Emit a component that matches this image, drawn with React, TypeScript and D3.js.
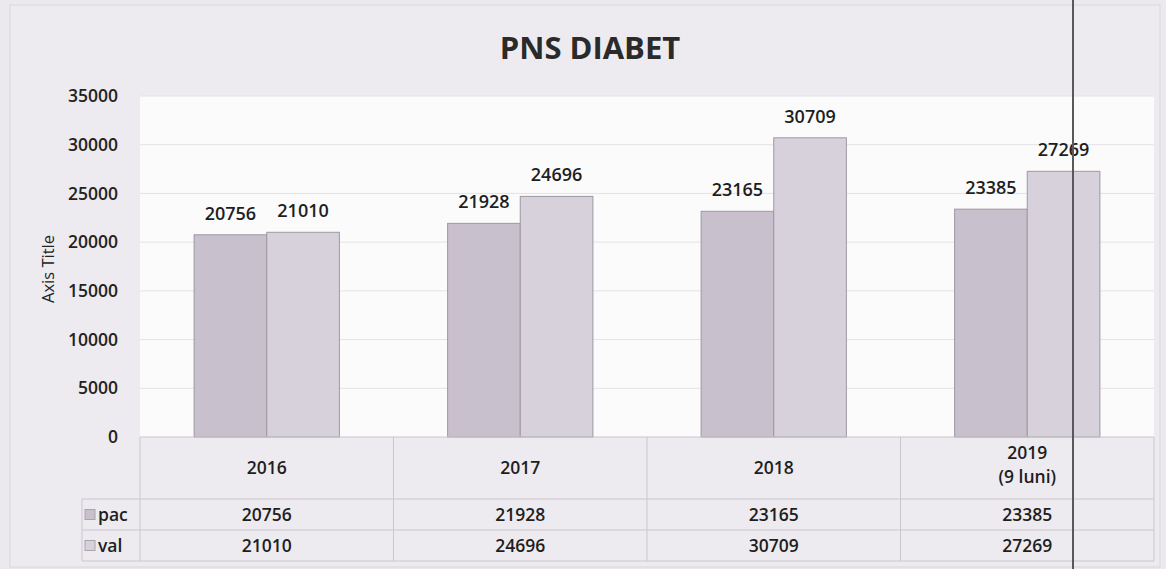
import React, { useEffect, useRef } from 'react';
import * as d3 from 'd3';

const YEARS = ["2016", "2017", "2018", "2019"];
const YEAR_LINES = [["2016"], ["2017"], ["2018"], ["2019", "(9 luni)"]];
const SERIES = ["pac", "val"];
const PAC = [20756, 21928, 23165, 23385];
const VAL = [21010, 24696, 30709, 27269];
const Y_TICKS = [0, 5000, 10000, 15000, 20000, 25000, 30000, 35000];

const FONT = "'Open Sans', 'Noto Sans', sans-serif";

const App = () => {
    const width = 1166;
    const height = 569;
    // plot area
    const plot = { left: 140, right: 1154, top: 96, bottom: 437 };
    // data table rows
    const table = { labelLeft: 82, yearBottom: 499, pacBottom: 530, valBottom: 561 };

    const svgRef = useRef(null);

    useEffect(() => {
        const svg = d3.select(svgRef.current);
        svg.selectAll("*").remove();

        const values = { pac: PAC, val: VAL };
        const fills = { pac: "#c9c0cd", val: "#d7d1dc" };

        const x0 = d3.scaleBand().domain(YEARS).range([plot.left, plot.right]).paddingInner(0).paddingOuter(0);
        const x1 = d3.scaleBand().domain(SERIES).range([0, x0.bandwidth()]).paddingInner(0).paddingOuter(0.745);
        const y = d3.scaleLinear().domain([0, 35000]).range([plot.bottom, plot.top]);

        // page background (scanned look)
        svg.append("rect")
            .attr("width", width).attr("height", height)
            .attr("fill", "#ebe9ed");
        svg.append("rect")
            .attr("x", 10).attr("y", 5).attr("width", 1150).attr("height", 562)
            .attr("fill", "#edebef")
            .attr("stroke", "#d9d7db");

        // plot area
        svg.append("rect")
            .attr("x", plot.left).attr("y", plot.top)
            .attr("width", plot.right - plot.left).attr("height", plot.bottom - plot.top)
            .attr("fill", "#fbfbfc");

        // gridlines
        svg.append("g").selectAll("line")
            .data(Y_TICKS.filter(d => d > 0))
            .enter().append("line")
            .attr("x1", plot.left).attr("x2", plot.right)
            .attr("y1", d => y(d)).attr("y2", d => y(d))
            .attr("stroke", "#e4e2e6")
            .attr("stroke-width", 1);

        // y axis labels
        const yAxis = d3.axisLeft(y).tickValues(Y_TICKS).tickFormat(d3.format("d")).tickSize(0).tickPadding(0);
        const gy = svg.append("g")
            .attr("transform", "translate(118 0)")
            .call(yAxis);
        gy.select(".domain").remove();
        gy.selectAll("text")
            .attr("font-family", FONT)
            .attr("font-size", 17.5)
            .attr("font-weight", 600)
            .attr("fill", "#222");

        // axis title
        svg.append("text")
            .attr("transform", "translate(54 269) rotate(-90)")
            .attr("text-anchor", "middle")
            .attr("font-family", FONT)
            .attr("font-size", 16.5)
            .attr("font-weight", 500)
            .attr("fill", "#222")
            .text("Axis Title");

        // title
        svg.append("text")
            .attr("x", 590).attr("y", 59)
            .attr("text-anchor", "middle")
            .attr("font-family", FONT)
            .attr("font-size", 31)
            .attr("font-weight", 700)
            .attr("fill", "#2a2a2a")
            .text("PNS DIABET");

        // bars
        const groups = svg.append("g").selectAll("g")
            .data(YEARS)
            .enter().append("g")
            .attr("transform", d => "translate(" + x0(d) + " 0)");

        groups.selectAll("rect")
            .data((d, i) => SERIES.map(s => ({ s, v: values[s][i] })))
            .enter().append("rect")
            .attr("x", d => x1(d.s))
            .attr("y", d => y(d.v))
            .attr("width", x1.bandwidth())
            .attr("height", d => y(0) - y(d.v))
            .attr("fill", d => fills[d.s])
            .attr("stroke", "#9e98a2")
            .attr("stroke-width", 1);

        groups.selectAll("text")
            .data((d, i) => SERIES.map(s => ({ s, v: values[s][i] })))
            .enter().append("text")
            .attr("x", d => x1(d.s) + x1.bandwidth() / 2)
            .attr("y", d => y(d.v) - 15)
            .attr("text-anchor", "middle")
            .attr("font-family", FONT)
            .attr("font-size", 18)
            .attr("font-weight", 600)
            .attr("fill", "#1e1e1e")
            .text(d => d.v);

        // data table grid
        const grid = svg.append("g")
            .attr("stroke", "#c9c7cc")
            .attr("stroke-width", 1);
        [plot.bottom, table.yearBottom, table.pacBottom, table.valBottom].forEach((ly, i) => {
            grid.append("line")
                .attr("x1", i === 0 ? plot.left : table.labelLeft).attr("x2", plot.right)
                .attr("y1", ly).attr("y2", ly);
        });
        YEARS.forEach(yr => {
            grid.append("line")
                .attr("x1", x0(yr)).attr("x2", x0(yr))
                .attr("y1", plot.bottom).attr("y2", table.valBottom);
        });
        grid.append("line")
            .attr("x1", plot.right).attr("x2", plot.right)
            .attr("y1", plot.bottom).attr("y2", table.valBottom);
        grid.append("line")
            .attr("x1", table.labelLeft).attr("x2", table.labelLeft)
            .attr("y1", table.yearBottom).attr("y2", table.valBottom);

        // category labels
        const cat = svg.append("g").selectAll("text")
            .data(YEAR_LINES)
            .enter().append("text")
            .attr("x", (d, i) => x0(YEARS[i]) + x0.bandwidth() / 2)
            .attr("y", d => d.length > 1 ? 459 : 474)
            .attr("text-anchor", "middle")
            .attr("font-family", FONT)
            .attr("font-size", 17.5)
            .attr("font-weight", 600)
            .attr("fill", "#1e1e1e");
        cat.selectAll("tspan")
            .data(d => d)
            .enter().append("tspan")
            .attr("x", function () { return d3.select(this.parentNode).attr("x"); })
            .attr("dy", (d, i) => i === 0 ? 0 : 24)
            .text(d => d);

        // table value rows
        const rowMid = { pac: (table.yearBottom + table.pacBottom) / 2, val: (table.pacBottom + table.valBottom) / 2 };
        SERIES.forEach(s => {
            svg.append("rect")
                .attr("x", 85).attr("y", rowMid[s] - 5)
                .attr("width", 10).attr("height", 10)
                .attr("fill", fills[s])
                .attr("stroke", "#a9a4ad");
            svg.append("text")
                .attr("x", 98).attr("y", rowMid[s] + 6)
                .attr("font-family", FONT)
                .attr("font-size", 17.5)
                .attr("font-weight", 600)
                .attr("fill", "#1e1e1e")
                .text(s);
            svg.append("g").selectAll("text")
                .data(values[s])
                .enter().append("text")
                .attr("x", (d, i) => x0(YEARS[i]) + x0.bandwidth() / 2)
                .attr("y", rowMid[s] + 6)
                .attr("text-anchor", "middle")
                .attr("font-family", FONT)
                .attr("font-size", 17.5)
                .attr("font-weight", 600)
                .attr("fill", "#1e1e1e")
                .text(d => d);
        });

        // scanner line across the page
        svg.append("line")
            .attr("x1", 1073).attr("x2", 1073)
            .attr("y1", 0).attr("y2", height)
            .attr("stroke", "#5a585c")
            .attr("stroke-width", 2);

    }, []);

    return <svg ref={svgRef} width={width} height={height}
        style={{ position: 'absolute', left: 0, top: 0 }} />;
};

export default App;
